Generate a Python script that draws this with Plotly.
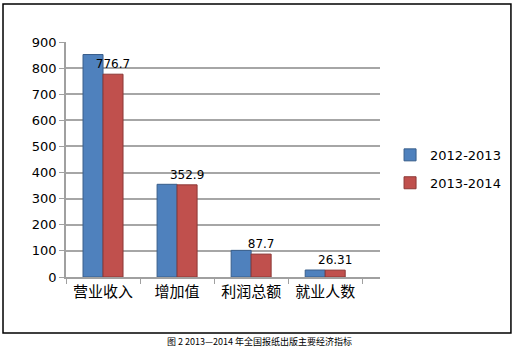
import plotly.graph_objects as go

categories = ["营业收入", "增加值", "利润总额", "就业人数"]
series_names = ["2012-2013", "2013-2014"]
values_2012_2013 = [852.0, 355.0, 102.0, 26.7]
values_2013_2014 = [776.7, 352.9, 87.7, 26.31]
label_2013_2014 = ["776.7", "352.9", "87.7", "26.31"]
y_ticks = [0, 100, 200, 300, 400, 500, 600, 700, 800, 900]
caption = "图 2 2013—2014 年全国报纸出版主要经济指标"

FONT = "DejaVu Sans, Noto Sans CJK SC, sans-serif"
CJK = "Noto Sans CJK SC, sans-serif"

fig = go.Figure()
fig.add_trace(go.Bar(
    x=categories, y=values_2012_2013, name=series_names[0],
    marker=dict(color="#4F81BD", line=dict(color="#385D8A", width=1)),
    legendgroup="a",
))
fig.add_trace(go.Bar(
    x=categories, y=values_2013_2014, name=series_names[1],
    marker=dict(color="#C0504D", line=dict(color="#8C3836", width=1)),
    text=label_2013_2014, textposition="outside", cliponaxis=False,
    constraintext="none",
    textfont=dict(family=FONT, size=12, color="#000000"),
    legendgroup="b",
))

fig.update_layout(
    width=518, height=359, autosize=False,
    margin=dict(l=66, r=138, t=42, b=82, autoexpand=False),
    paper_bgcolor="white", plot_bgcolor="white",
    barmode="group", bargap=0.46, bargroupgap=0,
    font=dict(family=FONT, color="#000000"),
    showlegend=True,
    legend=dict(xref="container", x=0.753, y=0.46, xanchor="left", yanchor="middle",
                font=dict(family=FONT, size=13, color="#000000"),
                tracegroupgap=8, bgcolor="rgba(0,0,0,0)"),
    xaxis=dict(
        range=[-0.5, 3.74], showgrid=False,
        showline=True, linecolor="#A0A0A0", linewidth=1.5,
        ticks="outside", tickson="boundaries", ticklen=5, tickcolor="#A0A0A0",
        tickfont=dict(family=CJK, size=15, color="#000000"),
    ),
    yaxis=dict(
        range=[0, 900], tickvals=y_ticks,
        showgrid=True, gridcolor="#A6A6A6", gridwidth=1.5,
        showline=True, linecolor="#A0A0A0", linewidth=1.5,
        ticks="outside", ticklen=5, tickcolor="#A0A0A0",
        tickfont=dict(family=FONT, size=13, color="#000000"),
        zeroline=False,
    ),
    shapes=[dict(type="rect", xref="paper", yref="paper",
                 x0=-0.2006, x1=1.417, y0=-0.238, y1=1.1617,
                 line=dict(color="#000000", width=1.5), fillcolor="rgba(0,0,0,0)")],
    annotations=[dict(text=caption, xref="paper", yref="paper",
                      x=0.615, y=-0.31, showarrow=False,
                      font=dict(family=CJK, size=9, color="#000000"))],
)

fig.write_html("out.html",
               config={"responsive": False, "displayModeBar": False},
               post_script="document.body.style.margin='0';document.body.style.overflow='hidden';")
